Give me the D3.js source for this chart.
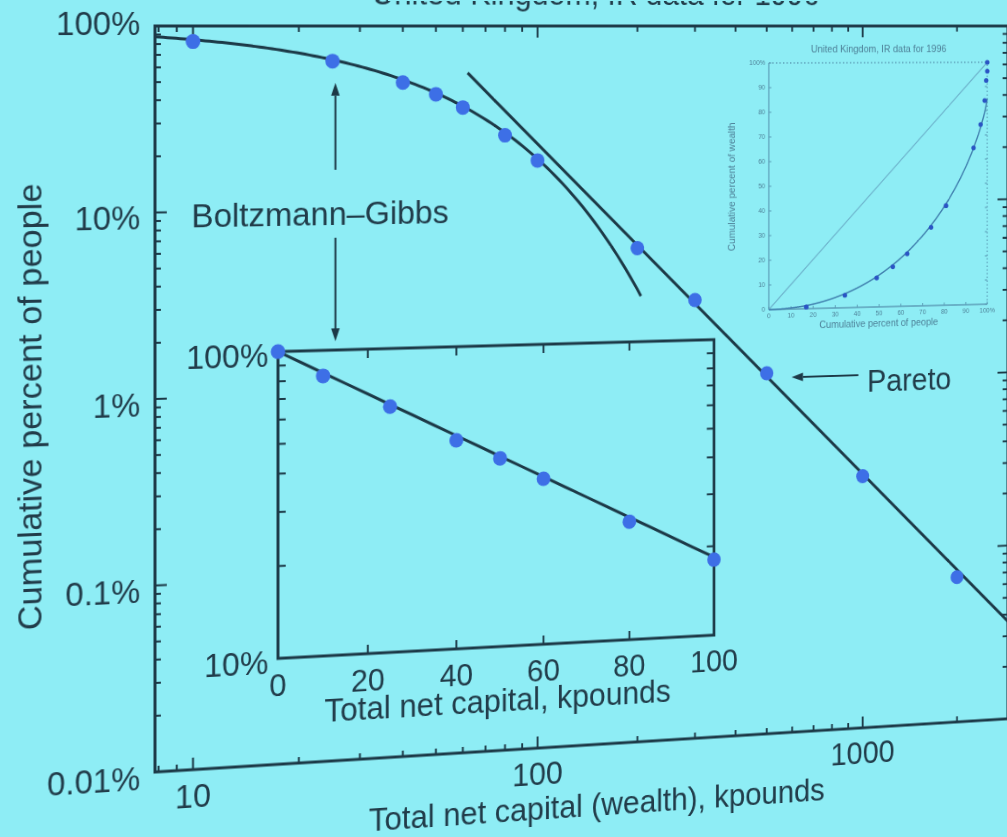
<!DOCTYPE html>
<html>
<head>
<meta charset="utf-8">
<script src="https://cdn.jsdelivr.net/npm/d3@7"></script>
<style>
  html, body { margin: 0; padding: 0; width: 1007px; height: 837px; overflow: hidden; background: #8eedf5; }
  /* the slide is seen at a slight angle: right side further away */
  #slide { position: absolute; left: 0; top: 0; transform-origin: 155px 26px;
           transform: perspective(2000px) rotateY(9.5deg); }
  text { font-family: "Liberation Sans", Arial, Helvetica, sans-serif; }
</style>
</head>
<body>
<svg id="slide" width="1120" height="900"></svg>
<script>
// Wealth bins (lower bound, kpounds) and cumulative percent of people above each bin
const wealth     = [10, 25, 40, 50, 60, 80, 100, 200, 300, 500, 1000, 2000];
const cumPeople  = [82.5, 64.4, 49.0, 42.2, 35.6, 24.9, 18.0, 5.74, 2.89, 1.09, 0.272, 0.068];

// Axis domains and tick labels of the main log-log plot
const xDomain = [7.82, 2917];
const yDomain = [0.01, 100];
const xTickValues = [10, 100, 1000];
const xTickLabels = ["10", "100", "1000"];
const yTickValues = [100, 10, 1, 0.1, 0.01];
const yTickLabels = ["100%", "10%", "1%", "0.1%", "0.01%"];

// Linear-log inset (low-wealth part)
const insetXTicks = [0, 20, 40, 60, 80, 100];
const insetYTicks = [100, 10];
const insetYLabels = ["100%", "10%"];

// Fitted laws
const temperature = 59;        // Boltzmann-Gibbs: exp(-w/T), kpounds
const bgEnd = 205;             // the exponential is drawn up to this wealth
const paretoAlpha = 1.9;       // Pareto tail exponent
const paretoRef = [1000, 0.28];// (wealth, percent) on the Pareto line
const paretoStart = 62;

// Lorenz curve (top-right panel): cumulative percent of people vs of wealth
const lorenzPeople = [16.9, 34.4, 48.9, 56.3, 62.9, 73.9, 80.8, 93.6, 96.9, 98.8, 99.5, 100, 100];
const lorenzWealth = [0.7, 5.1, 11.9, 16.3, 21.5, 32.2, 41.0, 64.7, 74.3, 84.2, 92.5, 96.3, 100];
const lorenzTailShare = 0.15;
const lorenzTicks = [0, 10, 20, 30, 40, 50, 60, 70, 80, 90, 100];

const ink = "#1c3947";
const textInk = "#213c4a";
const dotFill = "#3d6fe6";
const lightInk = "#5b9db7";
const lightText = "#4d8198";

const svg = d3.select("#slide");

// ---------- main log-log plot ----------
const x = d3.scaleLog().domain(xDomain).range([155, 1086]);
const y = d3.scaleLog().domain(yDomain).range([772, 26]);
const [x0, x1] = x.range();
const [y0, y1] = [y.range()[1], y.range()[0]]; // top, bottom

function logTicks(dom) {
  const out = [];
  for (let e = Math.floor(Math.log10(dom[0])); e <= Math.ceil(Math.log10(dom[1])); e++) {
    for (let m = 1; m <= 9; m++) {
      const v = m * Math.pow(10, e);
      if (v >= dom[0] * 0.999 && v <= dom[1] * 1.001) out.push({ v, major: m === 1 });
    }
  }
  return out;
}

svg.append("defs").append("clipPath").attr("id", "mainClip")
  .append("rect").attr("x", x0).attr("y", y0).attr("width", x1 - x0).attr("height", y1 - y0);

// title (mostly above the visible area)
svg.append("text").attr("x", (x0 + x1) / 2 + 3).attr("y", 4)
  .attr("text-anchor", "middle").attr("font-size", 33).attr("fill", textInk)
  .text("United Kingdom, IR data for 1996");

// frame
svg.append("rect").attr("x", x0).attr("y", y0).attr("width", x1 - x0).attr("height", y1 - y0)
  .attr("fill", "none").attr("stroke", ink).attr("stroke-width", 3);

const tickG = svg.append("g").attr("stroke", ink).attr("stroke-width", 2);
logTicks(xDomain).forEach(t => {
  const len = t.major ? 12 : 6, px = x(t.v);
  tickG.append("line").attr("x1", px).attr("x2", px).attr("y1", y1).attr("y2", y1 - len);
  tickG.append("line").attr("x1", px).attr("x2", px).attr("y1", y0).attr("y2", y0 + len);
});
logTicks(yDomain).forEach(t => {
  const len = t.major ? 12 : 6, py = y(t.v);
  tickG.append("line").attr("x1", x0).attr("x2", x0 + len).attr("y1", py).attr("y2", py);
  tickG.append("line").attr("x1", x1).attr("x2", x1 - len).attr("y1", py).attr("y2", py);
});

// tick labels
xTickValues.forEach((v, i) => {
  svg.append("text").attr("x", x(v)).attr("y", y1 + 38).attr("text-anchor", "middle")
    .attr("font-size", 33).attr("fill", textInk).text(xTickLabels[i]);
});
yTickValues.forEach((v, i) => {
  const base = i === 0 ? y(v) + 9 : y(v) + 17;
  svg.append("text").attr("x", 140).attr("y", base).attr("text-anchor", "end")
    .attr("font-size", 33).attr("fill", textInk).text(yTickLabels[i]);
});

// axis titles
svg.append("text").attr("x", 625).attr("y", 846).attr("text-anchor", "middle")
  .attr("font-size", 33).attr("fill", textInk).text("Total net capital (wealth), kpounds");
svg.append("text").attr("transform", "translate(41,403) rotate(-90)").attr("text-anchor", "middle")
  .attr("font-size", 34).attr("fill", textInk).text("Cumulative percent of people");

// fitted curves
const plotG = svg.append("g").attr("clip-path", "url(#mainClip)");
const line = d3.line().x(d => x(d[0])).y(d => y(d[1]));
const bgPts = d3.range(0, 121).map(i => {
  const w = xDomain[0] * Math.pow(bgEnd / xDomain[0], i / 120);
  return [w, 100 * Math.exp(-w / temperature)];
});
plotG.append("path").attr("d", line(bgPts)).attr("fill", "none")
  .attr("stroke", ink).attr("stroke-width", 3);
const pareto = w => paretoRef[1] * Math.pow(w / paretoRef[0], -paretoAlpha);
plotG.append("path").attr("d", line([[paretoStart, pareto(paretoStart)], [xDomain[1], pareto(xDomain[1])]]))
  .attr("fill", "none").attr("stroke", ink).attr("stroke-width", 3);

// data points
plotG.selectAll("circle.pt").data(wealth.map((w, i) => [w, cumPeople[i]])).join("circle")
  .attr("class", "pt").attr("cx", d => x(d[0])).attr("cy", d => y(d[1])).attr("r", 7.5)
  .attr("fill", dotFill);

// annotations
function arrow(xa, ya, xb, yb) {
  // line from (xa,ya) to tip (xb,yb) with a filled head
  const ang = Math.atan2(yb - ya, xb - xa), L = 13, W = 4.5;
  const bx = xb - L * Math.cos(ang), by = yb - L * Math.sin(ang);
  svg.append("line").attr("x1", xa).attr("y1", ya).attr("x2", bx).attr("y2", by)
    .attr("stroke", ink).attr("stroke-width", 2);
  svg.append("path").attr("fill", ink).attr("d",
    `M${xb},${yb}L${bx - W * Math.sin(ang)},${by + W * Math.cos(ang)}L${bx + W * Math.sin(ang)},${by - W * Math.cos(ang)}Z`);
}
const ax = x(wealth[1]) + 3;
arrow(ax, 172, ax, y(cumPeople[1]) + 22);
svg.append("text").attr("x", 192).attr("y", 228).attr("font-size", 34).attr("fill", textInk)
  .text("Boltzmann\u2013Gibbs");
arrow(ax, 241, ax, 346);

const px10 = x(wealth[9]), py10 = y(cumPeople[9]);
arrow(px10 + 104, py10 + 5, px10 + 28, py10 + 5);
svg.append("text").attr("x", px10 + 114).attr("y", py10 + 23).attr("font-size", 33).attr("fill", textInk)
  .text("Pareto");

// ---------- linear-log inset ----------
const ix = d3.scaleLinear().domain([0, 100]).range([281, 749.6]);
const iy = d3.scaleLog().domain([10, 100]).range([665, 355]);
const [ix0, ix1] = ix.range();
const [iyTop, iyBot] = [iy.range()[1], iy.range()[0]];
svg.append("rect").attr("x", ix0).attr("y", iyTop).attr("width", ix1 - ix0).attr("height", iyBot - iyTop)
  .attr("fill", "none").attr("stroke", ink).attr("stroke-width", 3);
const itG = svg.append("g").attr("stroke", ink).attr("stroke-width", 2);
insetXTicks.slice(1, -1).forEach(v => {
  itG.append("line").attr("x1", ix(v)).attr("x2", ix(v)).attr("y1", iyBot).attr("y2", iyBot - 9);
  itG.append("line").attr("x1", ix(v)).attr("x2", ix(v)).attr("y1", iyTop).attr("y2", iyTop + 9);
});
d3.range(2, 10).forEach(m => {
  const v = m * 10;
  itG.append("line").attr("x1", ix0).attr("x2", ix0 + 8).attr("y1", iy(v)).attr("y2", iy(v));
  itG.append("line").attr("x1", ix1).attr("x2", ix1 - 8).attr("y1", iy(v)).attr("y2", iy(v));
});
insetXTicks.forEach(v => {
  svg.append("text").attr("x", ix(v)).attr("y", iyBot + 38).attr("text-anchor", "middle")
    .attr("font-size", 32).attr("fill", textInk).text(String(v));
});
insetYTicks.forEach((v, i) => {
  svg.append("text").attr("x", ix0 - 10).attr("y", iy(v) + 15).attr("text-anchor", "end")
    .attr("font-size", 33).attr("fill", textInk).text(insetYLabels[i]);
});
svg.append("text").attr("x", (ix0 + ix1) / 2).attr("y", 732).attr("text-anchor", "middle")
  .attr("font-size", 33).attr("fill", textInk).text("Total net capital, kpounds");

const iline = d3.line().x(d => ix(d[0])).y(d => iy(d[1]));
svg.append("path").attr("fill", "none").attr("stroke", ink).attr("stroke-width", 3)
  .attr("d", iline(d3.range(0, 101, 5).map(w => [w, 100 * Math.exp(-w / temperature)])));
const insetPts = [[0, 100]].concat(wealth.map((w, i) => [w, cumPeople[i]]).filter(d => d[0] <= 100));
svg.selectAll("circle.ipt").data(insetPts).join("circle").attr("class", "ipt")
  .attr("cx", d => ix(d[0])).attr("cy", d => iy(d[1])).attr("r", 7.5).attr("fill", dotFill);

// ---------- Lorenz panel ----------
const lx = d3.scaleLinear().domain([0, 100]).range([811, 1062]);
const ly = d3.scaleLinear().domain([0, 100]).range([325, 65]);
const LG = svg.append("g");
LG.append("text").attr("x", (lx(0) + lx(100)) / 2).attr("y", 54).attr("text-anchor", "middle")
  .attr("font-size", 10.5).attr("fill", lightText).text("United Kingdom, IR data for 1996");
LG.append("line").attr("x1", lx(0)).attr("x2", lx(0)).attr("y1", ly(0)).attr("y2", ly(100))
  .attr("stroke", lightInk).attr("stroke-width", 1.3);
LG.append("line").attr("x1", lx(0)).attr("x2", lx(100)).attr("y1", ly(0)).attr("y2", ly(0))
  .attr("stroke", lightInk).attr("stroke-width", 1.3);
LG.append("line").attr("x1", lx(0)).attr("x2", lx(100)).attr("y1", ly(100)).attr("y2", ly(100))
  .attr("stroke", lightInk).attr("stroke-width", 1.3).attr("stroke-dasharray", "1.5,2.5");
LG.append("line").attr("x1", lx(100)).attr("x2", lx(100)).attr("y1", ly(0)).attr("y2", ly(100))
  .attr("stroke", lightInk).attr("stroke-width", 1.3).attr("stroke-dasharray", "1.5,2.5");
lorenzTicks.forEach(v => {
  LG.append("line").attr("x1", lx(0)).attr("x2", lx(0) + 3).attr("y1", ly(v)).attr("y2", ly(v))
    .attr("stroke", lightInk).attr("stroke-width", 1);
  LG.append("line").attr("x1", lx(100)).attr("x2", lx(100) - 3).attr("y1", ly(v)).attr("y2", ly(v))
    .attr("stroke", lightInk).attr("stroke-width", 1);
  LG.append("line").attr("x1", lx(v)).attr("x2", lx(v)).attr("y1", ly(0)).attr("y2", ly(0) - 3)
    .attr("stroke", lightInk).attr("stroke-width", 1);
  const lab = v === 100 ? "100%" : String(v);
  LG.append("text").attr("x", lx(0) - 4).attr("y", ly(v) + 2.5).attr("text-anchor", "end")
    .attr("font-size", 7).attr("fill", lightText).text(lab);
  LG.append("text").attr("x", lx(v)).attr("y", ly(0) + 9).attr("text-anchor", "middle")
    .attr("font-size", 7).attr("fill", lightText).text(lab);
});
LG.append("text").attr("x", (lx(0) + lx(100)) / 2).attr("y", 346).attr("text-anchor", "middle")
  .attr("font-size", 10.5).attr("fill", lightText).text("Cumulative percent of people");
LG.append("text").attr("transform", `translate(773,${(ly(0) + ly(100)) / 2}) rotate(-90)`)
  .attr("text-anchor", "middle").attr("font-size", 10.5).attr("fill", lightText)
  .text("Cumulative percent of wealth");
LG.append("line").attr("x1", lx(0)).attr("y1", ly(0)).attr("x2", lx(100)).attr("y2", ly(100))
  .attr("stroke", "#6db3cc").attr("stroke-width", 1.2);
const lorenzFit = d3.range(0, 1000).map(i => {
  const p = i / 1000;
  return [100 * p, 100 * (1 - lorenzTailShare) * (p + (1 - p) * Math.log(1 - p))];
});
lorenzFit.push([100, 100 * (1 - lorenzTailShare)]);
LG.append("path").attr("fill", "none").attr("stroke", "#3f7fae").attr("stroke-width", 1.5)
  .attr("d", d3.line().x(d => lx(d[0])).y(d => ly(d[1]))(lorenzFit));
LG.selectAll("circle").data(lorenzPeople.map((p, i) => [p, lorenzWealth[i]])).join("circle")
  .attr("cx", d => lx(d[0])).attr("cy", d => ly(d[1])).attr("r", 2.6).attr("fill", "#2a55c4");
</script>
</body>
</html>
